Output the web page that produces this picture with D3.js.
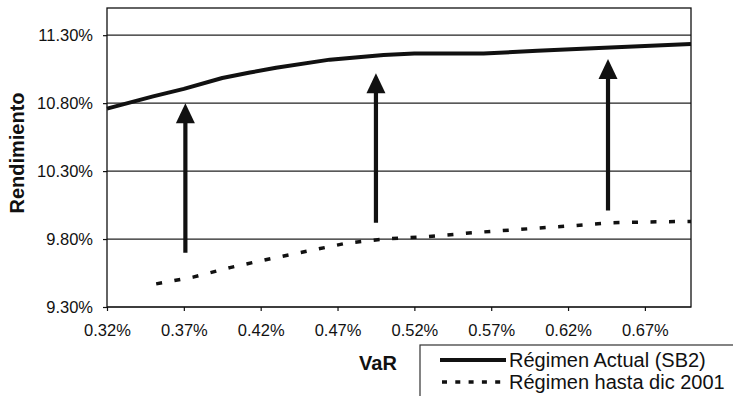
<!DOCTYPE html>
<html>
<head>
<meta charset="utf-8">
<script src="https://cdn.jsdelivr.net/npm/d3@7"></script>
<style>
  body { margin: 0; background: #fff; }
  svg { display: block; font-family: "Liberation Sans", Arial, sans-serif; }
</style>
</head>
<body>
<svg id="chart" width="733" height="396"></svg>
<script>
/* data (VaR %, Rendimiento %) */
const actualVaR  = [0.320, 0.350, 0.370, 0.395, 0.413, 0.430, 0.465, 0.500, 0.520, 0.565, 0.600, 0.640, 0.700];
const actualRend = [10.76, 10.85, 10.905, 10.985, 11.025, 11.06, 11.12, 11.155, 11.165, 11.165, 11.185, 11.205, 11.235];

const oldVaR  = [0.352, 0.376, 0.400, 0.424, 0.450, 0.476, 0.500, 0.525, 0.562, 0.600, 0.625, 0.649, 0.668, 0.700];
const oldRend = [9.47, 9.52, 9.59, 9.65, 9.71, 9.77, 9.80, 9.815, 9.85, 9.88, 9.90, 9.92, 9.925, 9.93];

const xTicks = [0.32, 0.37, 0.42, 0.47, 0.52, 0.57, 0.62, 0.67];
const yTicks = [9.30, 9.80, 10.30, 10.80, 11.30];

/* annotation arrows */
const arrowVaR  = [0.371, 0.495, 0.646];
const arrowFrom = [9.70, 9.92, 10.01];
const arrowTo   = [10.80, 11.02, 11.125];

const seriesNames = ["Régimen Actual (SB2)", "Régimen hasta dic 2001"];

const ctx = { left: 107, right: 691, top: 8, bottom: 307 };

let svg = d3.select("#chart");

let xScale = d3.scaleLinear()
    .domain([0.32, 0.70])
    .range([ctx.left, ctx.right]);

let yScale = d3.scaleLinear()
    .domain([9.30, 11.50])
    .range([ctx.bottom, ctx.top]);

/* grid lines */
svg.append("g").attr("id", "grid")
    .selectAll("line")
    .data(yTicks)
    .join("line")
    .attr("x1", ctx.left).attr("x2", ctx.right)
    .attr("y1", d => yScale(d)).attr("y2", d => yScale(d))
    .style("stroke", "#222")
    .style("stroke-width", 1.2);

/* plot frame */
svg.append("rect")
    .attr("x", ctx.left).attr("y", ctx.top)
    .attr("width", ctx.right - ctx.left)
    .attr("height", ctx.bottom - ctx.top)
    .style("fill", "none")
    .style("stroke", "#111")
    .style("stroke-width", 1.3);

/* axes */
let yAxis = svg.append("g")
    .attr("transform", "translate(" + ctx.left + ",0)")
    .call(d3.axisLeft(yScale).tickValues(yTicks).tickSize(4).tickPadding(10)
        .tickFormat(d => d.toFixed(2) + "%"));

let xAxis = svg.append("g")
    .attr("transform", "translate(0," + ctx.bottom + ")")
    .call(d3.axisBottom(xScale).tickValues(xTicks).tickSize(4).tickPadding(13)
        .tickFormat(d => d.toFixed(2) + "%"));

[yAxis, xAxis].forEach(ax => {
    ax.select(".domain").remove();
    ax.selectAll("line").style("stroke", "#111").style("stroke-width", 1.2);
    ax.selectAll("text")
        .style("font-size", "16.5px")
        .style("font-family", "'Liberation Sans', Arial, sans-serif")
        .style("fill", "#111");
});

/* lines */
let line = d3.line()
    .x(d => xScale(d[0]))
    .y(d => yScale(d[1]));

svg.append("path")
    .datum(d3.zip(actualVaR, actualRend))
    .attr("d", line)
    .style("fill", "none")
    .style("stroke", "#111")
    .style("stroke-width", 4)
    .style("stroke-linejoin", "round");

svg.append("path")
    .datum(d3.zip(oldVaR, oldRend))
    .attr("d", line)
    .style("fill", "none")
    .style("stroke", "#111")
    .style("stroke-width", 3.5)
    .style("stroke-dasharray", "6,12.5");

/* arrows */
let arrows = svg.append("g").attr("id", "arrows")
    .selectAll("g")
    .data(d3.zip(arrowVaR, arrowFrom, arrowTo))
    .join("g");

arrows.append("line")
    .attr("x1", d => xScale(d[0])).attr("x2", d => xScale(d[0]))
    .attr("y1", d => yScale(d[1])).attr("y2", d => yScale(d[2]) + 18)
    .style("stroke", "#111")
    .style("stroke-width", 4.2);

arrows.append("path")
    .attr("d", d => {
        let x = xScale(d[0]), y = yScale(d[2]);
        return `M${x},${y} L${x - 9.5},${y + 20} L${x + 9.5},${y + 20} Z`;
    })
    .style("fill", "#111");

/* axis titles */
svg.append("text")
    .attr("transform", "translate(24,153) rotate(-90)")
    .attr("text-anchor", "middle")
    .style("font-size", "20px")
    .style("font-weight", "bold")
    .style("fill", "#111")
    .text("Rendimiento");

svg.append("text")
    .attr("x", 378).attr("y", 370)
    .attr("text-anchor", "middle")
    .style("font-size", "20px")
    .style("font-weight", "bold")
    .style("fill", "#111")
    .text("VaR");

/* legend */
let legend = svg.append("g").attr("id", "legend");

legend.append("rect")
    .attr("x", 420).attr("y", 345)
    .attr("width", 400).attr("height", 100)
    .style("fill", "#fff")
    .style("stroke", "#333")
    .style("stroke-width", 1.2);

let items = legend.selectAll("g.item")
    .data(seriesNames)
    .join("g")
    .attr("class", "item")
    .attr("transform", (d, i) => "translate(0," + (360 + i * 22) + ")");

items.append("line")
    .attr("x1", (d, i) => i ? 442 : 440).attr("x2", 506)
    .attr("y1", 0).attr("y2", 0)
    .style("stroke", "#111")
    .style("stroke-width", (d, i) => i ? 3.5 : 4)
    .style("stroke-dasharray", (d, i) => i ? "5,8.3" : null);

items.append("text")
    .attr("x", 509).attr("y", 7)
    .style("font-size", "20px")
    .style("fill", "#111")
    .text(d => d);
</script>
</body>
</html>
